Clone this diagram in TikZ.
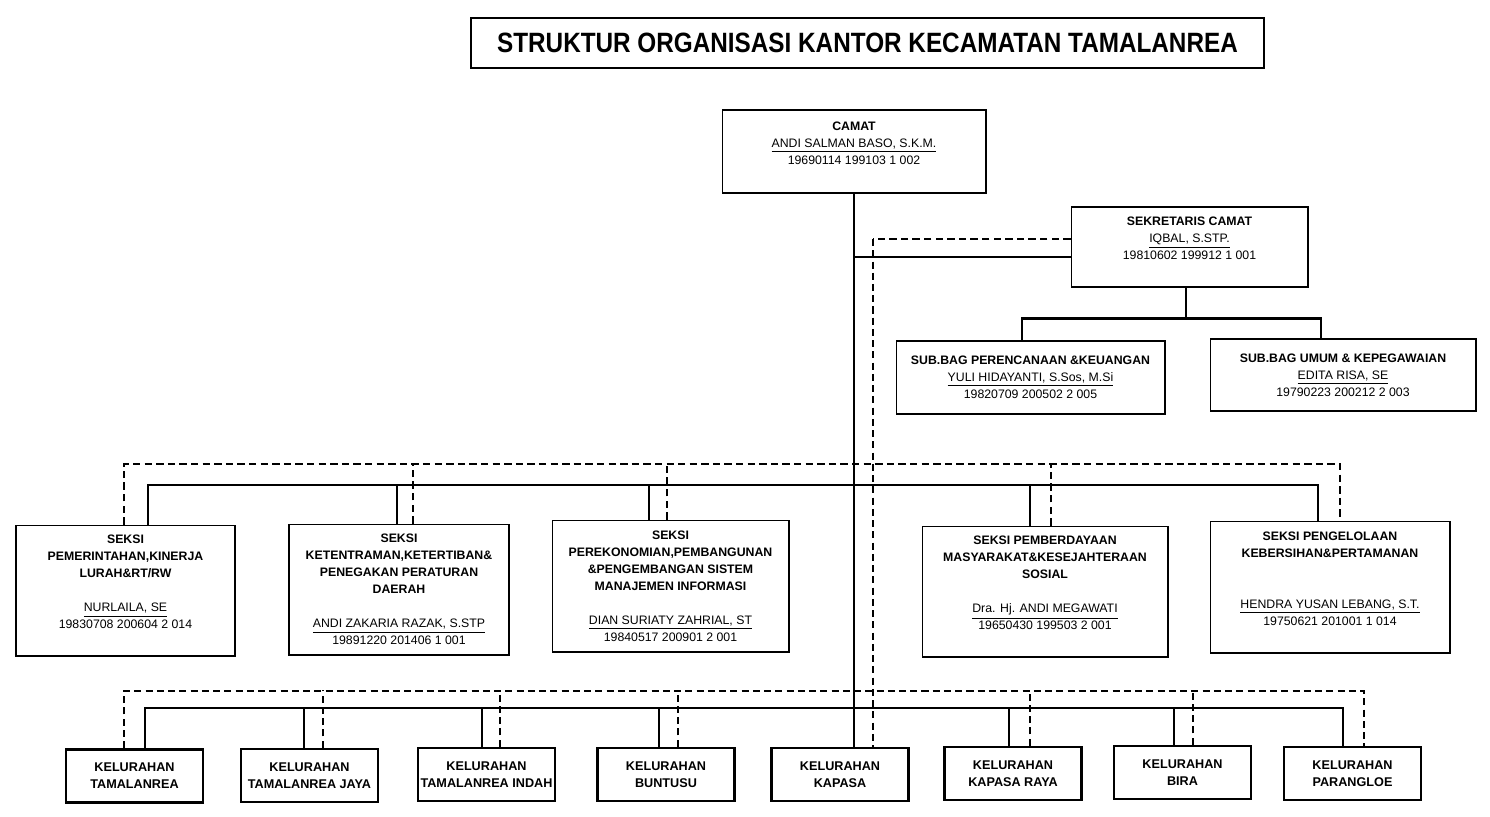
\documentclass[tikz,border=0pt]{standalone}
\usepackage{fontspec}
\setmainfont{Liberation Sans}
\newfontfamily\judulfont{Liberation Sans}[FakeStretch=0.87]

\begin{document}
\begin{tikzpicture}[
    x=0.02cm, y=-0.02cm,
    jabatan/.style={draw=black,line width=.6pt,align=center,inner sep=0pt,
      font=\fontsize{7}{9.7}\selectfont},
    kel/.style={draw=black,line width=1.6pt,align=center,inner sep=0pt,
      minimum width=2.74cm,minimum height=1.06cm,
      font=\bfseries\fontsize{7.2}{9.7}\selectfont},
    garis/.style={line width=1.6pt},
    garis2/.style={line width=1.1pt},
    putus/.style={line width=1.6pt,dash pattern=on 4.2pt off 2.4pt},
    putus2/.style={line width=1.1pt,dash pattern=on 4pt off 2.4pt}]
 \useasboundingbox (0,0) rectangle (1490,816);
 \node [draw=black,line width=1.4pt,minimum width=15.86cm,minimum height=1cm,
   font=\judulfont\bfseries\fontsize{15.9}{18}\selectfont] (judul) at (867.5,43)
   {STRUKTUR ORGANISASI KANTOR KECAMATAN TAMALANREA};
 \node [jabatan,minimum width=5.28cm,minimum height=1.66cm] (camat) at (854,151.5)
   {\textbf{CAMAT}\\\underline{ANDI SALMAN BASO, S.K.M.}\\19690114 199103 1 002\\\mbox{}};
 \node [jabatan,minimum width=4.74cm,minimum height=1.6cm] (sek) at (1189.5,247)
   {\textbf{SEKRETARIS CAMAT}\\\underline{IQBAL, S.STP.}\\19810602 199912 1 001\\\mbox{}};
 \node [jabatan,minimum width=5.38cm,minimum height=1.46cm] (sb1) at (1030.5,377.5)
   {\textbf{SUB.BAG PERENCANAAN \&KEUANGAN}\\\underline{YULI HIDAYANTI, S.Sos, M.Si}\\19820709 200502 2 005};
 \node [jabatan,minimum width=5.32cm,minimum height=1.44cm] (sb2) at (1343,375)
   {\textbf{SUB.BAG UMUM \& KEPEGAWAIAN}\\\underline{EDITA RISA, SE}\\19790223 200212 2 003};
 % seksi
 \node [jabatan,minimum width=4.38cm,minimum height=2.62cm] (s1) at (125.5,590.5)
   {\textbf{SEKSI}\\\textbf{PEMERINTAHAN,KINERJA}\\\textbf{LURAH\&RT/RW}\\[9.7pt]
    \underline{NURLAILA, SE}\\19830708 200604 2 014\\\mbox{}};
 \node [jabatan,minimum width=4.4cm,minimum height=2.62cm] (s2) at (399,589.5)
   {\textbf{SEKSI}\\\textbf{KETENTRAMAN,KETERTIBAN\&}\\\textbf{PENEGAKAN PERATURAN}\\\textbf{DAERAH}\\[9.7pt]
    \underline{ANDI ZAKARIA RAZAK, S.STP}\\19891220 201406 1 001};
 \node [jabatan,minimum width=4.74cm,minimum height=2.64cm] (s3) at (670.5,586)
   {\textbf{SEKSI}\\\textbf{PEREKONOMIAN,PEMBANGUNAN}\\\textbf{\&PENGEMBANGAN SISTEM}\\\textbf{MANAJEMEN INFORMASI}\\[9.7pt]
    \underline{DIAN SURIATY ZAHRIAL, ST}\\19840517 200901 2 001};
 \node [jabatan,minimum width=4.92cm,minimum height=2.62cm] (s4) at (1045,591.5)
   {\textbf{SEKSI PEMBERDAYAAN}\\\textbf{MASYARAKAT\&KESEJAHTERAAN}\\\textbf{SOSIAL}\\[9.7pt]
    \underline{Dra. Hj. ANDI MEGAWATI}\\19650430 199503 2 001\\\mbox{}};
 \node [jabatan,minimum width=4.8cm,minimum height=2.64cm] (s5) at (1330,587)
   {\textbf{SEKSI PENGELOLAAN}\\\textbf{KEBERSIHAN\&PERTAMANAN}\\[19.4pt]
    \underline{HENDRA YUSAN LEBANG, S.T.}\\19750621 201001 1 014\\\mbox{}};
 % kelurahan
 \node [kel] (k1) at (134.5,776) {KELURAHAN\\TAMALANREA};
 \node [kel] (k2) at (309.5,775.5) {KELURAHAN\\TAMALANREA JAYA};
 \node [kel] (k3) at (486.5,774.5) {KELURAHAN\\TAMALANREA INDAH};
 \node [kel] (k4) at (666,774.5) {KELURAHAN\\BUNTUSU};
 \node [kel] (k5) at (840,774.5) {KELURAHAN\\KAPASA};
 \node [kel] (k6) at (1013,773.5) {KELURAHAN\\KAPASA RAYA};
 \node [kel] (k7) at (1182.5,772.5) {KELURAHAN\\BIRA};
 \node [kel] (k8) at (1352.5,773.5) {KELURAHAN\\PARANGLOE};
 \coordinate (js) at (855,485);
 \coordinate (jsd) at (873,464);
 \coordinate (jk) at (855,708);
 \coordinate (jkd) at (873,691);
 \coordinate (sk) at ([yshift=-.2cm]sek.west);
 \coordinate (skd) at ([yshift=.16cm]sek.west);
 \coordinate (kd) at ([xshift=.66cm]k5.north);
 % garis komando
 \draw[garis2] (camat.south) -- (camat.south |- k5.north);
 \draw[garis] (sk) -- (sk -| camat.south);
 \draw[garis] ([xshift=-.07cm]sek.south) -- ++(0,31) coordinate (jb);
 \draw[garis] ([xshift=-.17cm]sb1.north) |- (jb) -| ([xshift=-.44cm]sb2.north);
 \draw[garis] ([xshift=.45cm]s1.north) |- (js) -| ([xshift=-.24cm]s5.north);
 \draw[garis] ([xshift=-.04cm]s2.north) |- (js);
 \draw[garis] ([xshift=-.43cm]s3.north) |- (js);
 \draw[garis] ([xshift=-.3cm]s4.north) |- (js);
 \draw[garis2] ([xshift=.21cm]k1.north) |- (jk) -| ([xshift=-.19cm]k8.north);
 \draw[garis] ([xshift=-.11cm]k2.north) |- (jk);
 \draw[garis] ([xshift=-.09cm]k3.north) |- (jk);
 \draw[garis] ([xshift=-.14cm]k4.north) |- (jk);
 \draw[garis] ([xshift=-.08cm]k6.north) |- (jk);
 \draw[garis] ([xshift=-.17cm]k7.north) |- (jk);
 % garis koordinasi
 \draw[putus] (skd) -- (skd -| kd);
 \draw[putus2] (skd -| kd) -- (kd);
 \draw[putus] ([xshift=-.03cm]s1.north) |- (jsd) -| ([xshift=.2cm]s5.north);
 \draw[putus] ([xshift=.28cm]s2.north) -- ++(0,-60);
 \draw[putus] ([xshift=-.07cm]s3.north) -- ++(0,-56);
 \draw[putus] ([xshift=.12cm]s4.north) -- ++(0,-62);
 \draw[putus2] ([xshift=-.21cm]k1.north) |- (jkd) -| ([xshift=.23cm]k8.north);
 \draw[putus2] ([xshift=.27cm]k2.north) -- ++(0,-58);
 \draw[putus2] ([xshift=.27cm]k3.north) -- ++(0,-57);
 \draw[putus2] ([xshift=.24cm]k4.north) -- ++(0,-57);
 \draw[putus2] ([xshift=.34cm]k6.north) -- ++(0,-56);
 \draw[putus2] ([xshift=.21cm]k7.north) -- ++(0,-55);
\end{tikzpicture}
\end{document}
